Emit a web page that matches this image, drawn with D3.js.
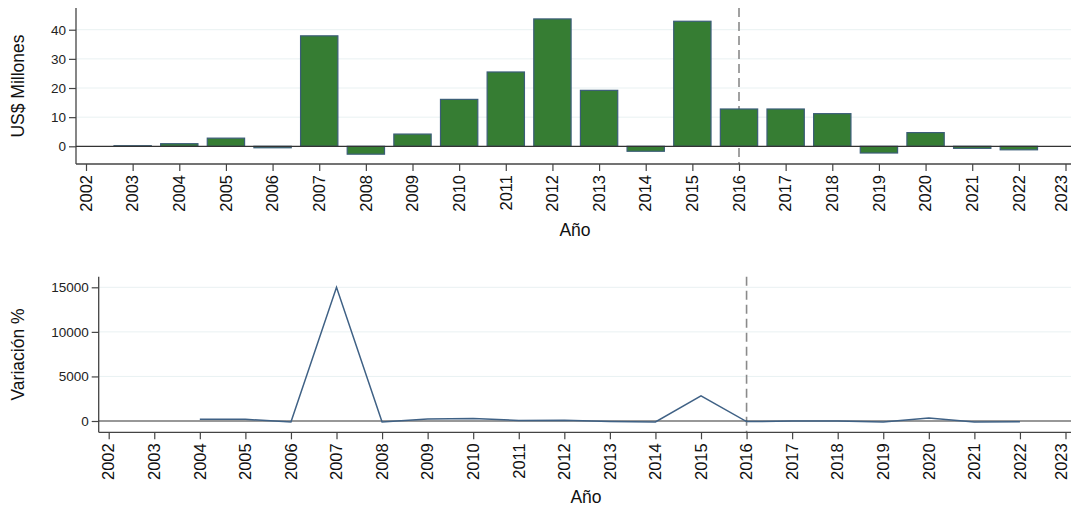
<!DOCTYPE html>
<html>
<head>
<meta charset="utf-8">
<script src="https://cdn.jsdelivr.net/npm/d3@7"></script>
<style>
  body { margin: 0; background: #fff; }
  svg { font-family: "Liberation Sans", Arial, sans-serif; }
</style>
</head>
<body>
<svg id="chart" width="1071" height="508"></svg>
<script>
  // years on the axis
  var years = d3.range(2002, 2024);

  // top panel: US$ millions per year
  var barYears = [2003, 2004, 2005, 2006, 2007, 2008, 2009, 2010, 2011, 2012,
                  2013, 2014, 2015, 2016, 2017, 2018, 2019, 2020, 2021, 2022];
  var barValues = [0.2, 0.9, 2.8, -0.5, 37.9, -2.7, 4.2, 16.1, 25.5, 43.7,
                   19.2, -1.7, 42.9, 12.8, 12.8, 11.2, -2.3, 4.7, -0.7, -1.2];

  // bottom panel: variation %
  var lineYears = [2004, 2005, 2006, 2007, 2008, 2009, 2010, 2011, 2012, 2013,
                   2014, 2015, 2016, 2017, 2018, 2019, 2020, 2021, 2022];
  var lineValues = [210, 190, -110, 15000, -105, 230, 270, 60, 70, -50,
                    -100, 2820, -70, 0, -12, -110, 330, -100, -80];

  var topTicks = [0, 10, 20, 30, 40];
  var bottomTicks = [0, 5000, 10000, 15000];
  var markYear = 2016;

  var svg = d3.select("#chart");

  function panel(opts) {
    var g = svg.append("g");
    var x = d3.scaleLinear().domain([2002, 2023]).range(opts.xRange);
    var y = d3.scaleLinear().domain(opts.yDomain).range([opts.bottom, opts.top]);

    // light gridlines
    g.selectAll(".grid").data(opts.yTicks.filter(d => d != 0)).enter()
      .append("line")
      .attr("x1", opts.left).attr("x2", 1071)
      .attr("y1", d => y(d)).attr("y2", d => y(d))
      .attr("stroke", "#e9f1f2").attr("stroke-width", 1);

    // dashed reference line
    g.append("line")
      .attr("x1", x(markYear)).attr("x2", x(markYear))
      .attr("y1", opts.top).attr("y2", opts.bottom)
      .attr("stroke", "#8a8a8a").attr("stroke-width", 1.6)
      .attr("stroke-dasharray", "9,5");

    // y axis
    var yAxis = d3.axisLeft(y).tickValues(opts.yTicks).tickFormat(d3.format("d"))
      .tickSize(7).tickPadding(3);
    var ya = g.append("g").attr("transform", "translate(" + opts.left + ",0)").call(yAxis);
    ya.select(".domain").attr("d", "M0," + opts.top + "V" + opts.bottom)
      .attr("stroke", "#444").attr("stroke-width", 1.3);
    ya.selectAll(".tick line").attr("stroke", "#444").attr("stroke-width", 1.2);
    ya.selectAll("text").attr("font-size", 13.5).attr("fill", "#222");

    // x axis
    var xAxis = d3.axisBottom(x).tickValues(years).tickFormat(d3.format("d"))
      .tickSize(7).tickPadding(4);
    var xa = g.append("g").attr("transform", "translate(0," + opts.bottom + ")").call(xAxis);
    xa.select(".domain").attr("d", "M" + opts.left + ",0H1071")
      .attr("stroke", "#444").attr("stroke-width", 1.3);
    xa.selectAll(".tick line").attr("stroke", "#444").attr("stroke-width", 1.2);
    xa.selectAll("text")
      .attr("font-size", 16.5).attr("fill", "#111")
      .attr("transform", "rotate(-90)")
      .attr("text-anchor", "end")
      .attr("dy", "0.32em")
      .attr("x", -11)
      // keep the last label inside the page
      .attr("y", d => d == 2023 ? -4 : 0);

    // axis titles
    g.append("text")
      .attr("transform", "translate(" + opts.yTitleX + "," + (opts.top + opts.bottom) / 2 + ") rotate(-90)")
      .attr("text-anchor", "middle").attr("dy", "0.35em")
      .attr("font-size", 17.5).attr("fill", "#111")
      .text(opts.yTitle);
    g.append("text")
      .attr("x", opts.xTitleX).attr("y", opts.xTitleY)
      .attr("text-anchor", "middle").attr("dy", "0.35em")
      .attr("font-size", 17.5).attr("fill", "#111")
      .text("Año");

    return { g: g, x: x, y: y };
  }

  // ---- top: bars ----
  var p1 = panel({
    left: 76, top: 8, bottom: 164, xRange: [86, 1065.5],
    yDomain: [-6.07, 47.45], yTicks: topTicks,
    yTitle: "US$ Millones", yTitleX: 18, xTitleX: 575, xTitleY: 230
  });
  var bw = (p1.x(2003) - p1.x(2002)) * 0.8;
  p1.g.selectAll(".bar").data(barYears).enter()
    .append("rect")
    .attr("x", (d) => p1.x(d) - bw / 2)
    .attr("width", bw)
    .attr("y", (d, i) => p1.y(Math.max(0, barValues[i])))
    .attr("height", (d, i) => Math.abs(p1.y(barValues[i]) - p1.y(0)))
    .attr("fill", "#367d33")
    .attr("stroke", "#3b5d78").attr("stroke-width", 1.2);
  p1.g.append("line")
    .attr("x1", 76).attr("x2", 1071)
    .attr("y1", p1.y(0)).attr("y2", p1.y(0))
    .attr("stroke", "#333").attr("stroke-width", 1.2);

  // ---- bottom: line ----
  var p2 = panel({
    left: 98.7, top: 276.7, bottom: 432.3, xRange: [108.7, 1065.5],
    yDomain: [-1268, 16190], yTicks: bottomTicks,
    yTitle: "Variación %", yTitleX: 18, xTitleX: 586, xTitleY: 497
  });
  p2.g.append("line")
    .attr("x1", 98.7).attr("x2", 1071)
    .attr("y1", p2.y(0)).attr("y2", p2.y(0))
    .attr("stroke", "#333").attr("stroke-width", 1.2);
  var line = d3.line()
    .x((d) => p2.x(d))
    .y((d, i) => p2.y(lineValues[i]));
  p2.g.append("path")
    .datum(lineYears)
    .attr("d", line)
    .attr("fill", "none")
    .attr("stroke", "#3f6185").attr("stroke-width", 1.5);
</script>
</body>
</html>
